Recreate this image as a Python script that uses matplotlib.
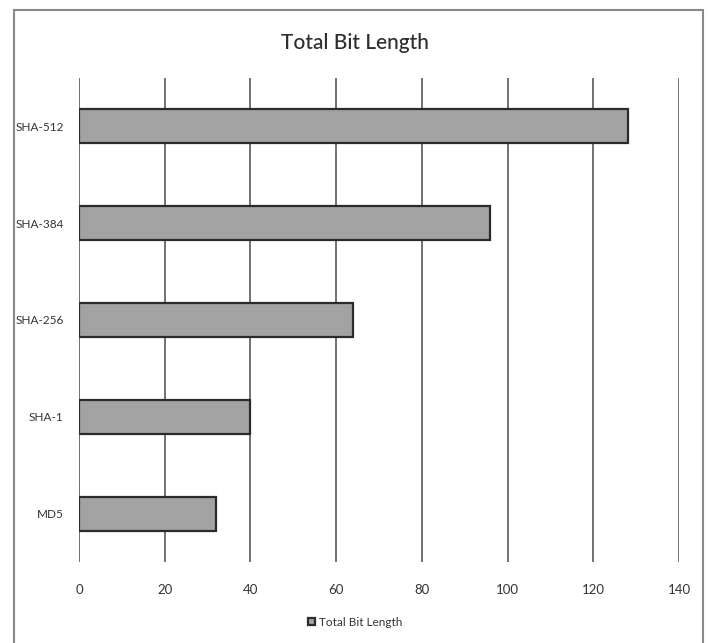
import matplotlib
matplotlib.use("Agg")
import matplotlib.pyplot as plt
from matplotlib.patches import Rectangle


# Values
algorithms = ['MD5', 'SHA-1', 'SHA-256', 'SHA-384', 'SHA-512']
bit_lengths = [32, 40, 64, 96, 128]
x_ticks = [0, 20, 40, 60, 80, 100, 120, 140]
series_name = 'Total Bit Length'

W, H = 709, 643


def main():
	plt.rcParams['font.family'] = ['Lato', 'DejaVu Sans']

	fig = plt.figure(figsize=(W / 100, H / 100), dpi=100)
	# axes box in pixel units: left 79, right 679, top 78, bottom 562
	ax = fig.add_axes([79 / W, 1 - 562 / H, 600 / W, (562 - 78) / H])

	ax.barh(algorithms, bit_lengths, height=0.35, color='#a3a3a3',
			edgecolor='#2b2b2b', linewidth=1.6, zorder=3, label=series_name)

	ax.set_xlim(0, 140)
	ax.set_ylim(-0.5, 4.5)
	ax.set_xticks(x_ticks)
	ax.xaxis.grid(True, color='#4a4a4a', linewidth=1.1, zorder=0)
	for s in ax.spines.values():
		s.set_visible(False)
	ax.tick_params(axis='both', length=0, colors='#333333')
	ax.tick_params(axis='x', pad=16, labelsize=9.5)
	ax.tick_params(axis='y', pad=11, labelsize=8.5)

	fig.text(355 / W, 1 - 43 / H, 'Total Bit Length', ha='center', va='center',
			 fontsize=15, color='#2e2e2e', fontweight='medium')

	fig.legend(loc='center', bbox_to_anchor=(355 / W, 1 - 622 / H), frameon=False,
			   fontsize=8.5, handlelength=0.6, handleheight=0.6, handletextpad=0.3,
			   labelcolor='#333333')

	# outer chart border, bottom edge falls outside the picture
	fig.patches.append(Rectangle((14 / W, -0.02), (703 - 14) / W, 1.02 - 10 / H,
								 transform=fig.transFigure, fill=False,
								 edgecolor='#8a8a8a', linewidth=1.5))

	fig.savefig('out.png', dpi=100)


if __name__ == "__main__":
	main()
